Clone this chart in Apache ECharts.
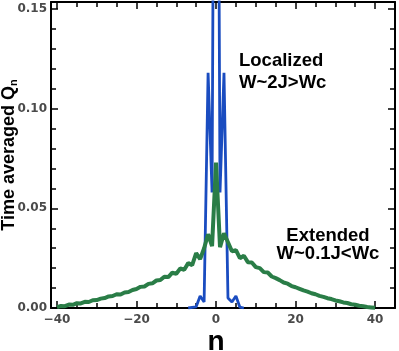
<!DOCTYPE html>
<html>
<head>
<meta charset="utf-8">
<script src="https://cdn.jsdelivr.net/npm/echarts@6/dist/echarts.min.js"></script>
<style>
  html, body { margin: 0; padding: 0; background: #fff; }
  #chart { width: 399px; height: 351px; }
</style>
</head>
<body>
<div id="chart"></div>
<script>
// site index n for the extended (green) curve
const nExtended = [];
for (let n = -40; n <= 40; n++) nExtended.push(n);
const qExtended = [
  0.0004, 0.0010, 0.0009, 0.0017, 0.0016, 0.0024, 0.0023, 0.0031, 0.0030, 0.0039,
  0.0040, 0.0047, 0.0050, 0.0058, 0.0060, 0.0069, 0.0068, 0.0078, 0.0080, 0.0090,
  0.0095, 0.0106, 0.0108, 0.0121, 0.0124, 0.0138, 0.0140, 0.0157, 0.0155, 0.0177,
  0.0172, 0.0198, 0.0192, 0.0225, 0.0215, 0.0275, 0.0245, 0.0300, 0.0370, 0.0310,
  0.0730,
  0.0305, 0.0375, 0.0330, 0.0285, 0.0290, 0.0250, 0.0262, 0.0230, 0.0228, 0.0205,
  0.0200, 0.0180, 0.0178, 0.0158, 0.0150, 0.0140, 0.0128, 0.0122, 0.0110, 0.0104,
  0.0096, 0.0088, 0.0082, 0.0074, 0.0069, 0.0061, 0.0056, 0.0049, 0.0045, 0.0038,
  0.0034, 0.0028, 0.0025, 0.0019, 0.0016, 0.0011, 0.0009, 0.0005, 0.0003, 0.0001
];

// localized (blue) curve, centre value runs far above the frame
const nLocalized = [-7, -6, -5, -4, -3, -2, -1, 0, 1, 2, 3, 4, 5, 6, 7];
const qLocalized = [0, 0.0003, 0.0006, 0.006, 0.003, 0.118, 0.058, 0.5, 0.058, 0.118, 0.005, 0.003, 0.006, 0.0004, 0];

const xMin = -41.5, xMax = 45;
const yMin = 0, yMax = 0.1535;

const chart = echarts.init(document.getElementById("chart"));

const tickFont = { fontFamily: "DejaVu Sans", fontWeight: "bold", fontSize: 12, color: "#4a4a4a" };
const frameLine = { show: true, onZero: false, lineStyle: { color: "#000", width: 2 } };
const tick = { show: true, inside: true, length: 7, lineStyle: { color: "#000", width: 1.5 } };
const minor = (k) => ({ show: true, splitNumber: k, length: 5, lineStyle: { color: "#000", width: 1.5 } });

let option = {
  animation: false,
  backgroundColor: "#fff",
  grid: { left: 51, right: 4, top: 2, bottom: 43, containLabel: false, outerBoundsMode: "none" },
  xAxis: [
    {
      type: "value",
      position: "bottom",
      min: xMin,
      max: xMax,
      splitNumber: 4,
      axisLine: frameLine,
      axisTick: tick,
      minorTick: minor(4),
      splitLine: { show: false },
      axisLabel: {
        ...tickFont,
        margin: 6,
        showMinLabel: false,
        showMaxLabel: false,
        formatter: (v) => (v < 0 ? "\u2212" + Math.abs(v) : String(v)),
      },
      name: "n",
      nameLocation: "middle",
      nameGap: 20,
      nameMoveOverlap: false,
      nameTextStyle: {
        fontFamily: "Liberation Sans",
        fontWeight: "bold",
        fontSize: 28,
        color: "#000",
        padding: [0, 14, 0, 0],
      },
    },
    {
      type: "value",
      position: "top",
      min: xMin,
      max: xMax,
      splitNumber: 4,
      axisLine: frameLine,
      axisTick: tick,
      minorTick: minor(4),
      splitLine: { show: false },
      axisLabel: { show: false },
    },
  ],
  yAxis: [
    {
      type: "value",
      position: "left",
      min: yMin,
      max: yMax,
      splitNumber: 3,
      axisLine: frameLine,
      axisTick: tick,
      minorTick: minor(5),
      splitLine: { show: false },
      axisLabel: {
        ...tickFont,
        margin: 4,
        showMaxLabel: false,
        formatter: (v) => v.toFixed(2),
      },
      name: "{a|Time averaged Q}{s|n}",
      nameLocation: "middle",
      nameRotate: 90,
      nameGap: 32,
      nameMoveOverlap: false,
      nameTextStyle: {
        rich: {
          a: { fontFamily: "Liberation Sans", fontWeight: "bold", fontSize: 18, color: "#000" },
          s: { fontFamily: "Liberation Sans", fontWeight: "bold", fontSize: 11, color: "#000", verticalAlign: "bottom", padding: [8, 0, 0, 0] },
        },
      },
    },
    {
      type: "value",
      position: "right",
      min: yMin,
      max: yMax,
      splitNumber: 3,
      axisLine: frameLine,
      axisTick: tick,
      minorTick: minor(5),
      splitLine: { show: false },
      axisLabel: { show: false },
    },
  ],
  series: [
    {
      name: "Localized",
      type: "line",
      xAxisIndex: 0,
      yAxisIndex: 0,
      showSymbol: false,
      clip: true,
      lineStyle: { color: "#1a4cc0", width: 2.8 },
      data: nLocalized.map((n, i) => [n, qLocalized[i]]),
      z: 2,
    },
    {
      name: "Extended",
      type: "line",
      xAxisIndex: 0,
      yAxisIndex: 0,
      showSymbol: false,
      clip: true,
      lineStyle: { color: "#2a7d47", width: 4 },
      data: nExtended.map((n, i) => [n, qExtended[i]]),
      z: 3,
    },
  ],
  graphic: [
    {
      type: "text",
      x: 239,
      y: 50,
      style: {
        text: "Localized\nW~2J>Wc",
        font: "bold 18.5px 'Liberation Sans'",
        lineHeight: 22,
        align: "left",
        verticalAlign: "top",
        fill: "#000",
      },
    },
    {
      type: "text",
      x: 328,
      y: 227,
      style: {
        text: "Extended\nW~0.1J<Wc",
        font: "bold 18.5px 'Liberation Sans'",
        lineHeight: 18,
        align: "center",
        verticalAlign: "top",
        fill: "#000",
      },
    },
  ],
};

chart.setOption(option);
</script>
</body>
</html>
